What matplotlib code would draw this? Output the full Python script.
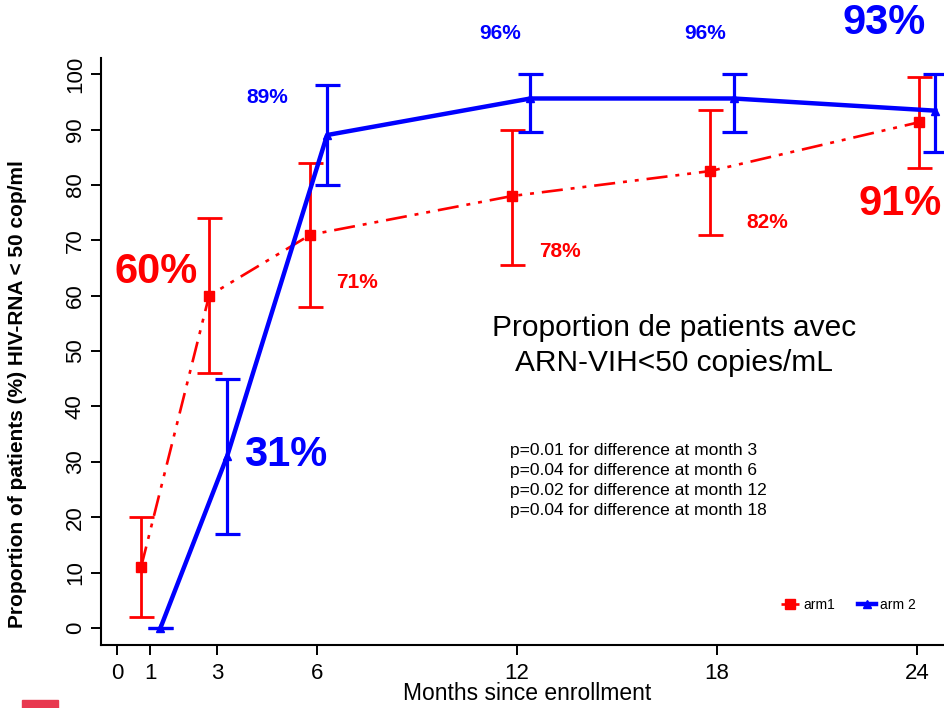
import matplotlib.pyplot as plt
from matplotlib.patches import Rectangle

plt.rcParams['font.family'] = ['Liberation Sans', 'DejaVu Sans']

# arm 1 (red)
arm1_x = [0.72, 2.76, 5.8, 11.86, 17.8, 24.05]
arm1_y = [11, 60, 71, 78, 82.5, 91.3]
arm1_lo = [2, 46, 58, 65.5, 71, 83]
arm1_hi = [20, 74, 84, 90, 93.5, 99.5]

# arm 2 (blue)
arm2_x = [1.3, 3.3, 6.3, 12.4, 18.5, 24.55]
arm2_y = [0, 31, 89, 95.6, 95.6, 93.4]
arm2_lo = [0, 17, 80, 89.5, 89.5, 86]
arm2_hi = [0, 45, 98, 100, 100, 100]

months = [0, 1, 3, 6, 12, 18, 24]
pvals = ["p=0.01 for difference at month 3",
         "p=0.04 for difference at month 6",
         "p=0.02 for difference at month 12",
         "p=0.04 for difference at month 18"]

red = '#ff0000'
blue = '#0000ff'

fig = plt.figure(figsize=(9.45, 7.08), dpi=100)
ax = fig.add_axes([0.107, 0.089, 0.893, 0.829])

def err(y, lo, hi):
    return [[a - b for a, b in zip(y, lo)], [b - a for a, b in zip(y, hi)]]

ax.errorbar(arm1_x, arm1_y, yerr=err(arm1_y, arm1_lo, arm1_hi), fmt='none',
            ecolor=red, elinewidth=2, capsize=9, capthick=2, zorder=2)
ax.plot(arm1_x, arm1_y, color=red, lw=1.9, dashes=(8, 3, 1.5, 3, 1.5, 3),
        marker='s', ms=7.5, label='arm1', zorder=3)

ax.errorbar(arm2_x, arm2_y, yerr=err(arm2_y, arm2_lo, arm2_hi), fmt='none',
            ecolor=blue, elinewidth=2.3, capsize=9, capthick=2.3, zorder=2)
ax.plot(arm2_x, arm2_y, color=blue, lw=3.2, marker='^', ms=6,
        label='arm 2', zorder=3)

# percent labels (positions in data coords)
big = dict(fontsize=30, fontweight='bold', ha='center', va='center', clip_on=False)
small = dict(fontsize=15, fontweight='bold', ha='center', va='center', clip_on=False)
ax.text(1.17, 64.3, "60%", color=red, **big)
ax.text(7.2, 62.3, "71%", color=red, **small)
ax.text(13.3, 67.9, "78%", color=red, **small)
ax.text(19.5, 73.3, "82%", color=red, **small)
ax.text(23.5, 76.5, "91%", color=red, **big)

ax.text(5.05, 31.2, "31%", color=blue, **big)
ax.text(4.5, 95.8, "89%", color=blue, **small)
ax.text(11.5, 107.3, "96%", color=blue, **small)
ax.text(17.65, 107.3, "96%", color=blue, **small)
ax.text(23.0, 109.3, "93%", color=blue, **big)

ax.text(16.7, 51.0, "Proportion de patients avec\nARN-VIH<50 copies/mL",
        fontsize=21.5, ha='center', va='center', linespacing=1.3)
ax.text(11.8, 26.6, "\n".join(pvals), fontsize=12.5, ha='left', va='center',
        linespacing=1.42)

ax.set_xlim(-0.48, 24.84)
ax.set_ylim(-3.07, 102.9)
ax.set_xticks(months)
ax.set_yticks(range(0, 101, 10))
ax.tick_params(axis='both', direction='out', length=7, width=1.4, labelsize=16)
ax.tick_params(axis='x', pad=6)
ax.tick_params(axis='y', labelrotation=90, pad=4)
for lab in ax.get_yticklabels():
    lab.set_va('center')
ax.spines['top'].set_visible(False)
ax.spines['right'].set_visible(False)
ax.spines['left'].set_linewidth(1.5)
ax.spines['bottom'].set_linewidth(1.5)

ax.set_xlabel("Months since enrollment", fontsize=16.5)
ax.xaxis.set_label_coords(0.505, -0.063)
ax.set_ylabel("Proportion of patients (%) HIV-RNA < 50 cop/ml", fontsize=15,
              fontweight='bold')
ax.yaxis.set_label_coords(-0.088, 0.428)

ax.legend(loc='lower right', bbox_to_anchor=(0.98, 0.035), ncol=2, frameon=False,
          fontsize=10, handlelength=1.3, handletextpad=0.3, columnspacing=1.6,
          markerscale=0.9)

# logo fragment bottom left
fig.patches.append(Rectangle((22 / 945, 0), 36 / 945, 8 / 708, transform=fig.transFigure,
                             color='#e8384f', figure=fig))

fig.savefig('out.png', dpi=100)
